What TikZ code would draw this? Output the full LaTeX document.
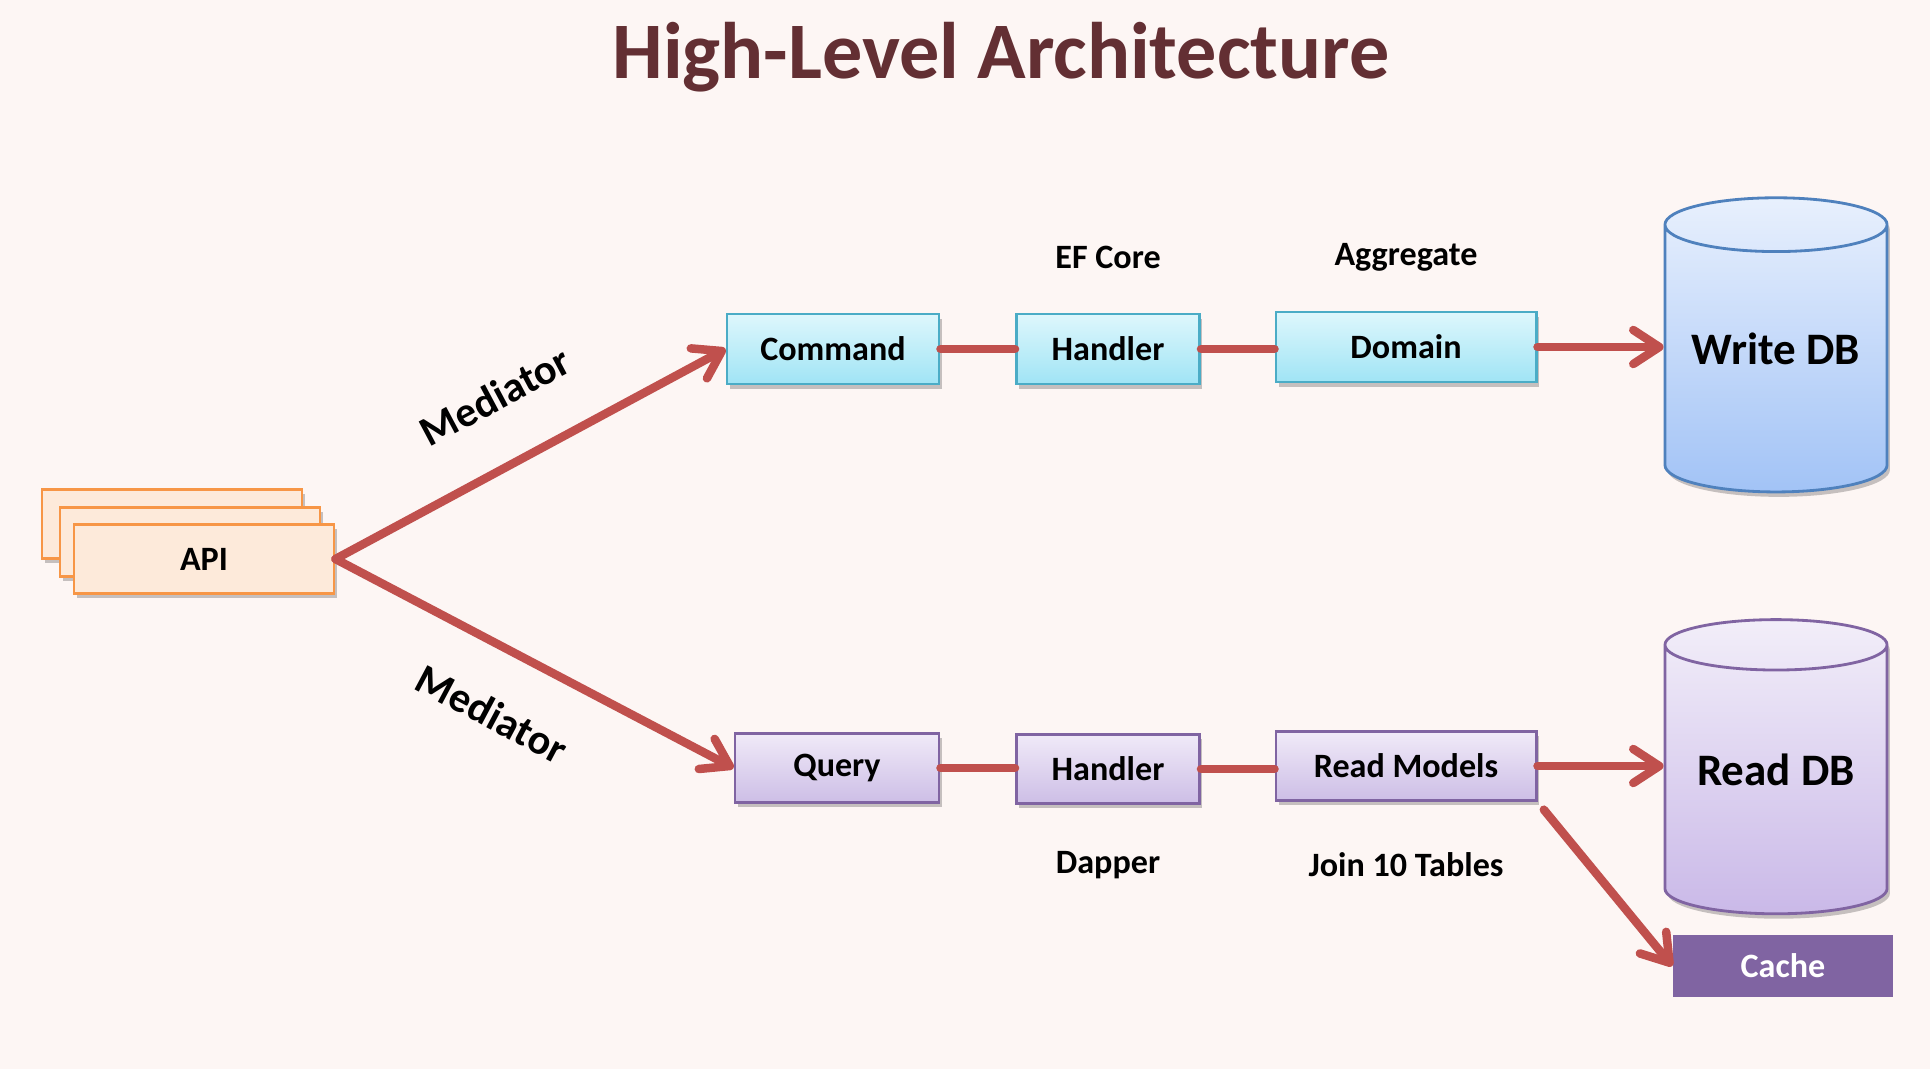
\documentclass[tikz,border=0pt]{standalone}
\usepackage{fontspec}
\setmainfont{Carlito}
\usetikzlibrary{arrows.meta, shapes.geometric, shadows}

\definecolor{bgpink}{RGB}{253,246,244}
\definecolor{titlered}{RGB}{99,47,51}
\definecolor{arrowred}{RGB}{192,80,77}
\definecolor{cmdtop}{RGB}{222,247,252}
\definecolor{cmdbot}{RGB}{160,228,245}
\definecolor{cmdline}{RGB}{75,172,198}
\definecolor{qrytop}{RGB}{240,234,248}
\definecolor{qrybot}{RGB}{205,190,230}
\definecolor{purpleline}{RGB}{128,100,162}
\definecolor{apifill}{RGB}{253,234,218}
\definecolor{apiline}{RGB}{247,150,70}
\definecolor{wdbtop}{RGB}{232,240,253}
\definecolor{wdbbot}{RGB}{162,195,246}
\definecolor{wdbline}{RGB}{79,129,189}
\definecolor{rdbtop}{RGB}{242,238,249}
\definecolor{rdbbot}{RGB}{202,185,232}

\tikzset{
  softshadow/.style={drop shadow={shadow xshift=0.8pt, shadow yshift=-1.4pt, opacity=0.22, fill=black}},
  cmdbox/.style={rectangle, draw=cmdline, thick, top color=cmdtop, bottom color=cmdbot,
                 minimum height=0.70cm, inner sep=0pt, softshadow},
  qrybox/.style={rectangle, draw=purpleline, thick, top color=qrytop, bottom color=qrybot,
                 minimum height=0.69cm, inner sep=0pt, softshadow},
  apibox/.style={rectangle, draw=apiline, thick, fill=apifill,
                 minimum width=2.60cm, minimum height=0.69cm, inner sep=0pt, softshadow},
  dbcyl/.style={cylinder, shape border rotate=90, aspect=0.32, thick,
                minimum width=2.22cm, minimum height=2.94cm, inner sep=0pt, softshadow,
                text depth=0.2cm, font=\fontsize{12.8}{15}\selectfont\bfseries},
  boxtext/.style={font=\fontsize{9.7}{11}\selectfont\bfseries},
  note/.style={font=\fontsize{9.7}{11}\selectfont\bfseries, inner sep=0pt}
}

\begin{document}
\begin{tikzpicture}[x=0.01cm, y=-0.01cm]
\fill[bgpink] (0,0) rectangle (1930,1069);
\useasboundingbox (0,0) rectangle (1930,1069);

\node[font=\fontsize{22.8}{26}\selectfont\bfseries, text=titlered] (title) at (1001,57) {High-Level Architecture};

% API stack
\node[apibox] (api3) at (172,524) {};
\node[apibox] (api2) at (190,542) {};
\node[apibox, boxtext] (api) at (204,559) {API};

% command side
\begin{scope}[every node/.style={cmdbox, boxtext}]
    \node[minimum width=2.12cm] (command) at (833,349) {Command};
    \node[minimum width=1.83cm] (whandler) at (1108,349) {Handler};
    \node[minimum width=2.60cm] (domain) at (1406,347) {Domain};
\end{scope}
\node[dbcyl, draw=wdbline, top color=wdbtop, bottom color=wdbbot] (writedb) at (1776,359) {Write DB};

% query side
\begin{scope}[every node/.style={qrybox, boxtext}]
    \node[minimum width=2.04cm] (query) at (837,768) {Query};
    \node[minimum width=1.83cm] (rhandler) at (1108,769) {Handler};
    \node[minimum width=2.60cm] (readmodels) at (1406,766) {Read Models};
\end{scope}
\node[dbcyl, draw=purpleline, top color=rdbtop, bottom color=rdbbot] (readdb) at (1776,780) {Read DB};
\node[rectangle, fill=purpleline, minimum width=2.20cm, minimum height=0.62cm, inner sep=0pt,
      text=white, boxtext] (cache) at (1783,966) {Cache};

% labels
\begin{scope}[every node/.style={note}]
    \node (efcore) at (1108,257) {EF Core};
    \node (aggregate) at (1406,257) {Aggregate};
    \node (dapper) at (1108,865) {Dapper};
    \node (jointables) at (1406,865) {Join 10 Tables};
    \node[font=\fontsize{12}{14}\selectfont\bfseries, rotate=28] (medtop) at (495,396) {Mediator};
    \node[font=\fontsize{12}{14}\selectfont\bfseries, rotate=-28] (medbot) at (492,714) {Mediator};
\end{scope}

% connectors
\begin{scope}[>={Straight Barb[round, length=0.26cm, width=0.34cm]},
              every edge/.style={draw=arrowred, line width=0.085cm, line cap=round}]
    \path [->] (api.east) edge (command.west);
    \path [->] (api.east) edge (query.west);
    \path (command.east) edge (command.east -| whandler.west);
    \path (whandler.east) edge (whandler.east -| domain.west);
    \path [->] (domain.east) edge (domain.east -| writedb.west);
    \path (query.east) edge (query.east -| rhandler.west);
    \path (rhandler.east) edge (rhandler.east -| readmodels.west);
    \path [->] (readmodels.east) edge (readmodels.east -| readdb.west);
    \path [->] (readmodels.south east) edge[shorten <=0.10cm] (cache.west);
\end{scope}
\end{tikzpicture}
\end{document}
